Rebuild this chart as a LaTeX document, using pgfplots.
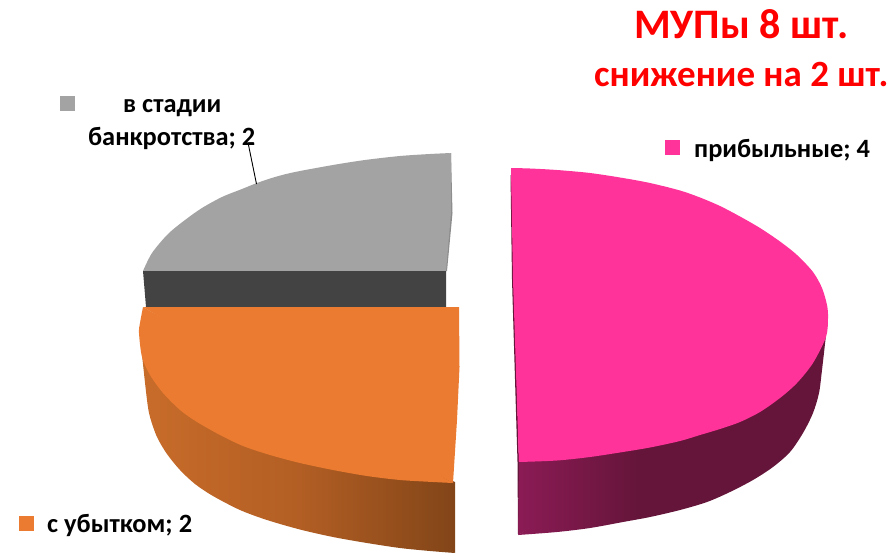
\documentclass[border=0pt]{standalone}
\usepackage{pgfplots}
\pgfplotsset{compat=1.18}
\usepackage{fontspec}
\setmainfont{Carlito}
\definecolor{pinktop}{HTML}{FF3399}
\definecolor{orangetop}{HTML}{EA7B30}
\definecolor{graytop}{HTML}{A3A3A3}
\definecolor{grayfront}{HTML}{434343}
\definecolor{graysl}{HTML}{8C8C8C}
\pgfdeclarehorizontalshading{pinkside}{100bp}{rgb(0bp)=(0.545,0.106,0.333);rgb(25bp)=(0.545,0.106,0.333);rgb(45bp)=(0.392,0.082,0.224);rgb(100bp)=(0.392,0.082,0.224)}
\pgfdeclarehorizontalshading{orangeside}{100bp}{rgb(0bp)=(0.784,0.424,0.165);rgb(25bp)=(0.784,0.424,0.165);rgb(50bp)=(0.70,0.37,0.14);rgb(75bp)=(0.51,0.27,0.094);rgb(100bp)=(0.51,0.27,0.094)}
\begin{document}
\begin{tikzpicture}
\begin{axis}[
  width=893bp,height=553bp,scale only axis,hide axis,
  xmin=0,xmax=893,ymin=0,ymax=553,y dir=reverse,
  clip=true]
% pink side: inner part, then the part under the outer edge
\addplot[draw=none,shade,shading=pinkside] coordinates {(826,335)(672,445)(518,535)(519,461)};
\addplot[draw=none,shade,shading=pinkside,smooth,tension=0.5] coordinates {
(826,335)(822,370)(819,393)(813,413)(803,433)(790,452)(773,467)(753,480)(730,492)(707,502)(680,510)(650,517)(623,522)(590,528)(557,532)(518,535)};
% pink sliver
\addplot[draw=none,fill={rgb,255:red,100;green,21;blue,57}] coordinates {(510.5,175)(512,280)(517.5,462)(518,535)(519,462)(514,280)(512,175)};
% pink top
\addplot[draw=none,fill=pinktop] coordinates {(511,168)(513,280)(519,462)(700,320)};
\addplot[draw=none,fill=pinktop,smooth,tension=0.5] coordinates {
(511,168)(530,168.5)(557,170)(590,173)(623,178)(650,183)(680,190.5)(700,197.5)(720,206)(740,216.5)(760,228)(780,241.5)(797,255)(813,272)(822,288)(827,305)(828,318)(826,337)(813,363)(797,383)(780,398)(760,412)(740,422)(720,429)(700,435)(680,441)(650,447.5)(623,452)(590,457)(557,460.5)(519,462)};
% gray
\addplot[draw=none,fill=graysl] coordinates {(451,153)(452.5,213)(447,271)(445,271)(450,213)};
\addplot[draw=none,fill=graytop] coordinates {(143,271)(300,195)(451,153)(451,213)(446,271)};
\addplot[draw=none,fill=graytop,smooth,tension=0.5] coordinates {
(143,271)(152,253)(168,234)(185,220)(202,208)(222,197)(242,189)(257,183)(275,177)(295,172)(333,165)(365,160)(400,156)(430,154)(451,153)};
\addplot[draw=none,fill=grayfront] coordinates {(143,271)(446,271)(446,307)(146,307)};
% orange side: inner part, then the part under the outer edge
\addplot[draw=none,shade,shading=orangeside] coordinates {(142,355)(300,470)(455,553)(455,482)};
\addplot[draw=none,shade,shading=orangeside,smooth,tension=0.5] coordinates {
(142,355)(147,400)(150,417)(157,437)(167,454)(180,470)(195,484)(213,496)(240,510)(267,520)(300,529.5)(333,537)(367,543)(400,548)(430,551)(455,553)};
% orange top
\addplot[draw=none,fill=orangetop] coordinates {(143,307)(459,307)(459.5,367)(457,420)(453,483)(300,400)};
\addplot[draw=none,fill=orangetop,smooth,tension=0.5] coordinates {
(143,307)(140,323)(139,333)(142,357)(150,375)(163,393)(180,410)(197,422)(220,435)(243,446)(270,455)(300,463)(333,470)(367,476)(400,480)(433,482)(453,483)};
% leader
\addplot[black,line width=0.9bp] coordinates {(248.5,145)(256.5,184)};
% legend keys
\addplot[draw=none,fill=graytop] coordinates {(60,96)(75,96)(75,111)(60,111)};
\addplot[draw=none,fill=orangetop] coordinates {(19,516)(34,516)(34,531)(19,531)};
\addplot[draw=none,fill=pinktop] coordinates {(665,140)(680,140)(680,155)(665,155)};
% texts
\node[anchor=base west,inner sep=0,text=red,font=\fontsize{42bp}{46bp}\selectfont\bfseries] at (axis cs:634,39) {МУПы 8 шт.};
\node[anchor=base west,inner sep=0,text=red,font=\fontsize{37bp}{42bp}\selectfont\bfseries] at (axis cs:594,86.5) {снижение на 2 шт.};
\node[anchor=base west,inner sep=0,font=\fontsize{26.4bp}{30bp}\selectfont\bfseries] at (axis cs:694,157) {прибыльные; 4};
\node[anchor=base west,inner sep=0,font=\fontsize{26.4bp}{30bp}\selectfont\bfseries] at (axis cs:123,112) {в стадии};
\node[anchor=base west,inner sep=0,font=\fontsize{26.4bp}{30bp}\selectfont\bfseries] at (axis cs:88,145) {банкротства; 2};
\node[anchor=base west,inner sep=0,font=\fontsize{26.4bp}{30bp}\selectfont\bfseries] at (axis cs:47,532) {с убытком; 2};
\end{axis}
\useasboundingbox (current axis.south west) rectangle (current axis.north east);
\end{tikzpicture}
\end{document}
